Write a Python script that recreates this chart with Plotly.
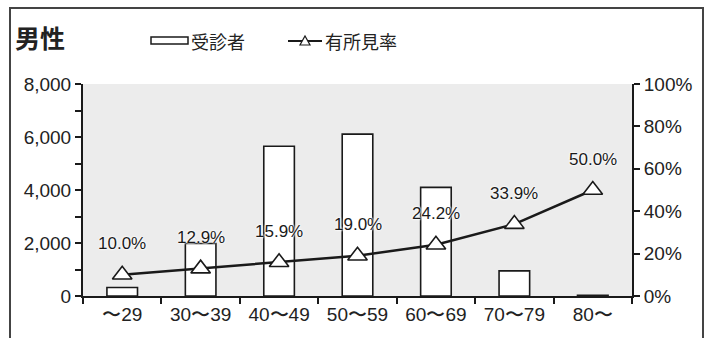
import plotly.graph_objects as go

# --- Daten ---
age_groups = ['〜29', '30〜39', '40〜49', '50〜59', '60〜69', '70〜79', '80〜']
examinees = [320, 1980, 5650, 6110, 4100, 950, 30]        # 受診者
finding_rate = [10.0, 12.9, 15.9, 19.0, 24.2, 33.9, 50.0]  # 有所見率 (%)

W, H = 707, 338
L, R, T, B = 83, 632, 84, 296   # Plotbereich in Pixeln

def px(x):
    return (x - L) / (R - L)

def py(y):
    return (B - y) / (B - T)

FONT = 'Liberation Sans, Arial, sans-serif'
JP = 'Noto Sans CJK JP, sans-serif'

fig = go.Figure()

fig.add_trace(go.Bar(
    x=age_groups, y=examinees, name='受診者',
    marker=dict(color='white', line=dict(color='#1a1a1a', width=1.6)),
    width=0.39, showlegend=False,
))

fig.add_trace(go.Scatter(
    x=age_groups, y=[v / 100 for v in finding_rate], yaxis='y2',
    mode='lines+markers', name='有所見率',
    line=dict(color='#1a1a1a', width=2.5),
    marker=dict(symbol='triangle-up', size=17, color='white',
                line=dict(color='#1a1a1a', width=1.6)),
    showlegend=False,
))

# Datenbeschriftungen
annotations = []
for g, v in zip(age_groups, finding_rate):
    annotations.append(dict(
        x=g, y=v / 100, xref='x', yref='y2', text=f'{v:.1f}%',
        showarrow=False, yshift=31,
        font=dict(family=FONT, size=17, color='#1a1a1a',
                  shadow='0 0 2px white, 0 0 2px white, 0 0 3px white'),
    ))

# Titel + Legende (manuell)
annotations += [
    dict(x=px(13), y=py(37), xref='paper', yref='paper', text='<b>男性</b>',
         showarrow=False, xanchor='left', yanchor='middle',
         font=dict(family=JP, size=25, color='#222')),
    dict(x=px(189), y=py(41), xref='paper', yref='paper', text='受診者',
         showarrow=False, xanchor='left', yanchor='middle',
         font=dict(family=JP, size=18, color='#222')),
    dict(x=px(323), y=py(41), xref='paper', yref='paper', text='有所見率',
         showarrow=False, xanchor='left', yanchor='middle',
         font=dict(family=JP, size=18, color='#222')),
]

shapes = [
    # Rahmen
    dict(type='rect', xref='paper', yref='paper',
         x0=px(10), x1=px(703), y0=py(350), y1=py(8),
         line=dict(color='#444', width=2), layer='below'),
    # Legende Balken
    dict(type='rect', xref='paper', yref='paper',
         x0=px(151), x1=px(188), y0=py(44), y1=py(37),
         line=dict(color='#1a1a1a', width=1.5), fillcolor='white'),
    # Legende Linie
    dict(type='line', xref='paper', yref='paper',
         x0=px(288), x1=px(322), y0=py(41), y1=py(41),
         line=dict(color='#1a1a1a', width=2)),
    dict(type='path', xref='paper', yref='paper',
         path=f'M {px(300)} {py(45)} L {px(310)} {py(45)} L {px(305)} {py(36)} Z',
         line=dict(color='#1a1a1a', width=1.2), fillcolor='white'),
]

fig.update_layout(
    width=W, height=H,
    margin=dict(l=L, r=W - R, t=T, b=H - B),
    paper_bgcolor='white', plot_bgcolor='#ececec',
    font=dict(family=FONT, size=19, color='#222'),
    bargap=0.6,
    xaxis=dict(
        type='category', categoryorder='array', categoryarray=age_groups,
        showline=True, linecolor='#1a1a1a', linewidth=2,
        ticks='outside', tickson='boundaries', ticklen=6, tickwidth=1.5,
        tickcolor='#1a1a1a', showgrid=False,
        tickfont=dict(family=FONT, size=19),
    ),
    yaxis=dict(
        range=[0, 8000], dtick=2000, tickformat=',',
        showline=True, linecolor='#1a1a1a', linewidth=2,
        ticks='outside', ticklen=6, tickwidth=1.5, tickcolor='#1a1a1a',
        minor=dict(dtick=1000, ticks='outside', ticklen=6, tickwidth=1.5,
                   tickcolor='#1a1a1a'),
        showgrid=False, zeroline=False,
    ),
    yaxis2=dict(
        range=[0, 1], dtick=0.2, tickformat='.0%', overlaying='y', side='right',
        showline=True, linecolor='#1a1a1a', linewidth=2,
        ticks='outside', ticklen=6, tickwidth=1.5, tickcolor='#1a1a1a',
        showgrid=False, zeroline=False,
    ),
    annotations=annotations,
    shapes=shapes,
)

# Browser-Standardrand entfernen, damit die Figur bei 0,0 beginnt
fig.write_html('out.html',
               config={'displayModeBar': False},
               post_script="document.body.style.margin='0';"
                           "document.body.style.overflow='hidden';")
